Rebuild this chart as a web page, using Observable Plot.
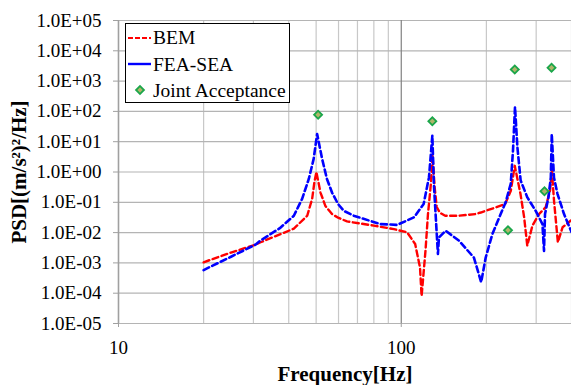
<!DOCTYPE html>
<html>
<head>
<meta charset="utf-8">
<script src="https://cdn.jsdelivr.net/npm/d3@7"></script>
<script src="https://cdn.jsdelivr.net/npm/@observablehq/plot@0.6"></script>
<style>
  html, body { margin: 0; padding: 0; background: white; }
  #chart { position: relative; width: 571px; height: 385px; }
  #chart svg text { font-family: "Liberation Serif", serif !important; }
  #chart svg g[aria-label$="tick label"] text { font-size: 19px !important; }
</style>
</head>
<body>
<div id="chart"></div>
<script>
// ---- Data ----
const bemFreq = [20, 25, 30.5, 31.8, 37.4, 41.7, 46.5, 48.4, 49.3, 50.1, 51.8, 53.9, 56.9, 59.8, 64.3, 80, 94.2, 104.9, 112, 116.5, 118, 121.8, 124.3, 127.3, 129, 131.3, 133.5, 137, 143, 160, 183, 191, 216, 233, 244, 252, 264, 272, 279, 291, 307, 324, 336, 341, 347, 358, 372, 398];
const bemPsd  = [1.05e-3, 2.2e-3, 4e-3, 4.8e-3, 8.9e-3, 0.0135, 0.036, 0.13, 0.46, 1.0, 0.21, 0.076, 0.041, 0.031, 0.0234, 0.017, 0.013, 0.0102, 4.2e-3, 7e-4, 8e-5, 2.5e-3, 0.041, 0.41, 3.5, 0.3, 0.07, 0.045, 0.036, 0.036, 0.041, 0.046, 0.068, 0.088, 0.24, 1.6, 0.19, 0.032, 3.7e-3, 0.017, 0.041, 0.068, 0.25, 1.1, 0.11, 4.8e-3, 0.015, 0.025];

const feaFreq = [20, 25, 30.5, 31.8, 37.2, 41.7, 44.6, 47.1, 49.0, 50.4, 52.5, 54.6, 56.9, 59.8, 62.7, 67.9, 84.5, 96.8, 111, 120, 125.3, 128.8, 130.4, 133.3, 134.8, 135.9, 143.5, 160, 180.7, 191.7, 198.9, 210, 224.7, 234, 243.9, 248.4, 252.5, 257.5, 264.4, 279.2, 298.9, 315.7, 319.8, 322.4, 331.5, 338, 340.6, 346.8, 356.8, 376.4, 400];
const feaPsd  = [5.8e-4, 1.6e-3, 4e-3, 5.5e-3, 0.014, 0.036, 0.13, 0.59, 2.7, 18, 2.7, 0.59, 0.21, 0.087, 0.052, 0.036, 0.019, 0.018, 0.032, 0.088, 0.66, 16, 0.41, 0.0115, 1.96e-3, 6.9e-3, 0.0115, 5.4e-3, 1.5e-3, 2.3e-4, 1.5e-3, 8.9e-3, 0.041, 0.1, 0.41, 5.1, 140, 6.5, 0.52, 0.145, 0.052, 0.019, 2.5e-3, 0.041, 0.145, 0.66, 18, 0.66, 0.19, 0.041, 0.0105];

const jaFreq = [50.8, 128.8, 238.5, 252, 321, 340];
const jaPsd  = [78, 47, 0.012, 2400, 0.23, 2740];

const yTicks = [1e-5, 1e-4, 1e-3, 1e-2, 1e-1, 1, 10, 100, 1e3, 1e4, 1e5];
const xMajor = [10, 100];
const xMinor = [20, 30, 40, 50, 60, 70, 80, 90, 200, 300, 400];

const seriesNames = ["BEM", "FEA-SEA", "Joint Acceptance"];

// ---- Build tables ----
const bem = bemFreq.map((f, i) => ({f, v: bemPsd[i]}));
const fea = feaFreq.map((f, i) => ({f, v: feaPsd[i]}));
const ja  = jaFreq.map((f, i) => ({f, v: jaPsd[i]}));

const fmtE = d => {
  const e = Math.round(Math.log10(d));
  return "1.0E" + (e < 0 ? "-" : "+") + String(Math.abs(e)).padStart(2, "0");
};

const FONT = "Liberation Serif";
const JA_FILL = "#b0b56a", JA_STROKE = "#1aa64a";

const plot = Plot.plot({
  width: 571,
  height: 385,
  marginLeft: 118,
  marginRight: 0,
  marginTop: 20,
  marginBottom: 62,
  style: {background: "white", color: "black", fontFamily: FONT},
  x: {type: "log", domain: [10, 400]},
  y: {type: "log", domain: [1e-5, 1e5]},
  marks: [
    Plot.ruleX(xMinor, {stroke: "#c8c8c8", strokeWidth: 1.2}),
    Plot.ruleY(yTicks, {stroke: "#b4b4b4", strokeWidth: 1.2}),
    Plot.ruleX([100], {stroke: "#808080", strokeWidth: 1.2}),
    Plot.ruleX([10], {stroke: "#a0a0a0", strokeWidth: 1.6}),
    Plot.axisY({ticks: yTicks, tickFormat: fmtE, tickSize: 5, tickPadding: 12, stroke: "#a0a0a0", fill: "black", label: null, fontFamily: FONT, fontSize: 19}),
    Plot.axisX({ticks: xMajor, tickFormat: d => String(d), tickSize: 4, tickPadding: 13, stroke: "#a0a0a0", fill: "black", label: null, fontFamily: FONT, fontSize: 19}),
    Plot.line(bem, {x: "f", y: "v", stroke: "#ff0000", strokeWidth: 2.4, strokeDasharray: "6,3.5"}),
    Plot.line(fea, {x: "f", y: "v", stroke: "#0000ff", strokeWidth: 2.6, strokeDasharray: "6,3.5"}),
    Plot.dot(ja, {x: "f", y: "v", symbol: "square", r: 3.2, rotate: 45, fill: JA_FILL, stroke: JA_STROKE, strokeWidth: 1.8})
  ]
});

document.getElementById("chart").appendChild(plot);

const svg = d3.select(plot);

// Axis titles
svg.append("text")
  .attr("x", 345).attr("y", 381)
  .attr("text-anchor", "middle")
  .attr("font-family", FONT).attr("font-weight", "bold").attr("font-size", 21)
  .attr("fill", "black")
  .text("Frequency[Hz]");

svg.append("text")
  .attr("transform", "translate(26,172) rotate(-90)")
  .attr("text-anchor", "middle")
  .attr("font-family", FONT).attr("font-weight", "bold").attr("font-size", 21)
  .attr("fill", "black")
  .text("PSD[(m/s²)²/Hz]");

// Legend
const lg = svg.append("g");
lg.append("rect").attr("x", 125.5).attr("y", 23.5).attr("width", 164).attr("height", 79)
  .attr("fill", "white").attr("stroke", "black").attr("stroke-width", 1);
lg.append("line").attr("x1", 128).attr("x2", 151).attr("y1", 38).attr("y2", 38)
  .attr("stroke", "#ff0000").attr("stroke-width", 2.2).attr("stroke-dasharray", "5,2");
lg.append("line").attr("x1", 128).attr("x2", 151).attr("y1", 64).attr("y2", 64)
  .attr("stroke", "#0000ff").attr("stroke-width", 2.4);
lg.append("rect").attr("x", -2.8).attr("y", -2.8).attr("width", 5.6).attr("height", 5.6)
  .attr("transform", "translate(140,90) rotate(45)")
  .attr("fill", JA_FILL).attr("stroke", JA_STROKE).attr("stroke-width", 1.8);
const ys = [44, 71, 97];
seriesNames.forEach((n, i) => {
  lg.append("text").attr("x", 153).attr("y", ys[i])
    .attr("text-anchor", "start")
    .attr("font-family", FONT).attr("font-size", 19.5).attr("fill", "black").text(n);
});
</script>
</body>
</html>
